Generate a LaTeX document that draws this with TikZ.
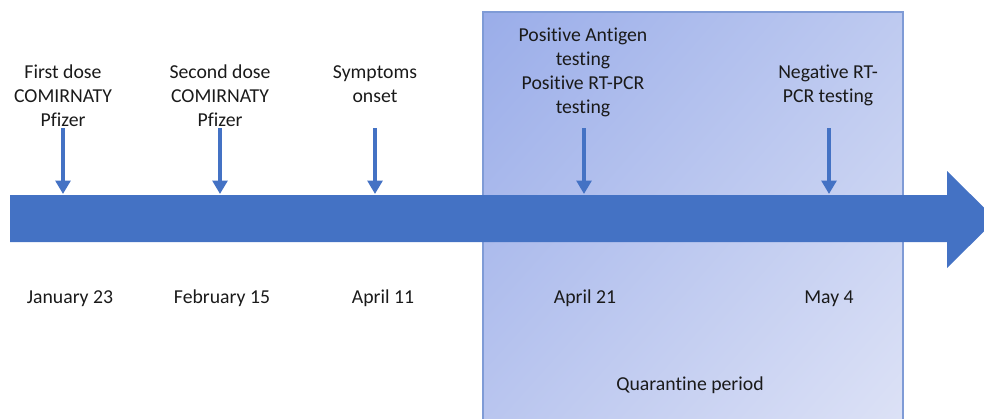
\documentclass[tikz,border=0pt]{standalone}
\usepackage{fontspec}
\setmainfont[Ligatures=CommonOff]{Carlito}
\usetikzlibrary{arrows.meta,shadings}
\definecolor{flecheBleue}{HTML}{4472C4}
\definecolor{bordBleu}{HTML}{7F9BD6}
\definecolor{texteGris}{HTML}{1A1A1A}
\definecolor{qHautG}{RGB}{154,173,233}
\definecolor{qHautD}{RGB}{190,202,240}
\definecolor{qBasG}{RGB}{186,198,239}
\definecolor{qBasD}{RGB}{221,226,246}
\begin{document}
\begin{tikzpicture}[x=0.75pt,y=-0.75pt,
    evenement/.style={anchor=base, align=center, inner sep=0pt, text=texteGris,
      font=\fontsize{14.8}{18}\selectfont},
    date/.style={evenement},
    repere/.style={draw=flecheBleue, line width=2.6pt,
      -{Triangle[width=11pt,length=10pt]}}]
            \useasboundingbox (0,0) rectangle (984,418);

            % Periode de quarantaine (fond en degrade)
            \shade[upper left=qHautG, upper right=qHautD,
                   lower left=qBasG, lower right=qBasD]
              (483,12) rectangle (903,430);
            \draw[bordBleu, line width=0.8pt] (483,430) -- (483,12) -- (903,12) -- (903,430);

            % Grande fleche du temps
            \fill[flecheBleue] (10,195) -- (947,195) -- (947,171) -- (996,219.5)
              -- (947,268) -- (947,242) -- (10,242) -- cycle;

            % Evenements au-dessus de la fleche (ligne de base de la derniere ligne)
            \node[evenement] (dose1) at (63,126) {First dose\\COMIRNATY\\Pfizer};
            \node[evenement] (dose2) at (220,126) {Second dose\\COMIRNATY\\Pfizer};
            \node[evenement] (symptomes) at (375,102) {Symptoms\\onset};
            \node[evenement] (positif) at (583,113) {Positive Antigen\\testing\\Positive RT-PCR\\testing};
            \node[evenement] (negatif) at (828,102) {Negative RT-\\PCR testing};

            % Dates sous la fleche
            \node[date] (janv) at (70,303) {January 23};
            \node[date] (fevr) at (222,303) {February 15};
            \node[date] (avr11) at (383,303) {April 11};
            \node[date] (avr21) at (585,303) {April 21};
            \node[date] (mai) at (829,303) {May 4};
            \node[date] (quarantaine) at (690,390) {Quarantine period};

            % Petites fleches vers l'axe
            \foreach \nom/\x in {d1/63, d2/220, so/375, po/584, ne/829} {
              \coordinate (\nom-haut) at (\x,128);
              \coordinate (\nom-bas) at (\x,194);
              \draw[repere] (\nom-haut) -- (\nom-bas);
            }
\end{tikzpicture}
\end{document}
